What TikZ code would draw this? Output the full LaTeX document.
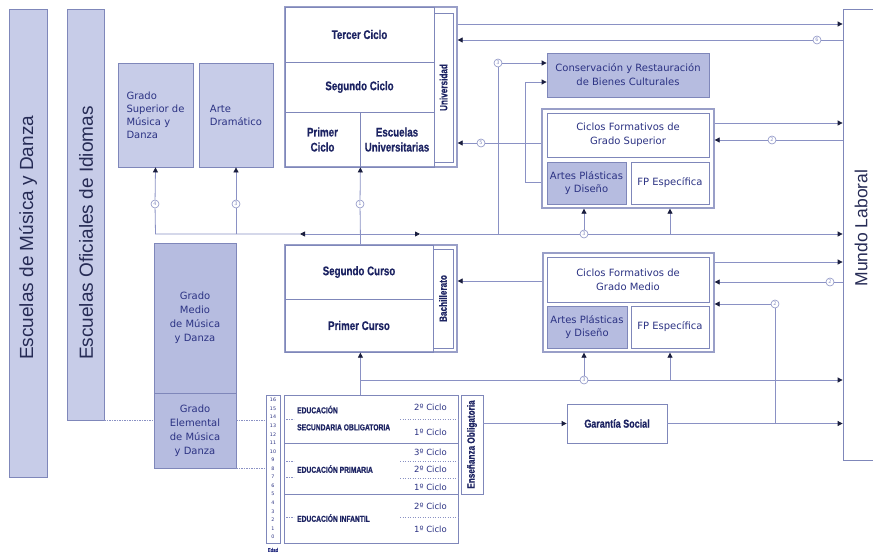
\documentclass[tikz,border=0pt]{standalone}
\usepackage{fontspec}
\setmainfont{DejaVu Sans}
\newfontfamily\arialf{Liberation Sans}
\newfontfamily\condf[FakeStretch=0.78,FakeBold=0.5]{Liberation Sans}
\usetikzlibrary{arrows.meta}
\definecolor{lav}{HTML}{C7CCE8}
\definecolor{lavd}{HTML}{B6BCE0}
\definecolor{bord}{HTML}{7F87BA}
\definecolor{lnc}{HTML}{8A91C4}
\definecolor{navy}{HTML}{2B3283}
\definecolor{dnavy}{HTML}{1C2362}
\definecolor{tipc}{HTML}{1A1E3E}
\definecolor{bigc}{HTML}{262B55}
\tikzset{
  box/.style={draw=bord, line width=0.8pt, inner sep=0pt, align=center, text=navy, font=\fontsize{10}{13}\selectfont},
  dbl/.style={line width=1.3pt, draw=bord!80},
  cb/.style={font=\condf\bfseries\fontsize{12.5}{15}\selectfont, text=dnavy},
  cbs/.style={font=\condf\bfseries\fontsize{10.5}{12}\selectfont, text=dnavy},
  edu/.style={font=\condf\bfseries\fontsize{8.6}{17}\selectfont, text=dnavy, align=left, inner sep=0pt},
  cyc/.style={font=\fontsize{8.5}{10}\selectfont, text=navy, inner sep=0pt},
  big/.style={font=\arialf\fontsize{19}{22}\selectfont, text=bigc, inner sep=0pt},
  conn/.style={draw=lnc, line width=0.8pt},
  arr/.style={conn, -{Triangle[length=5pt,width=5pt,color=tipc]}},
  dotl/.style={draw=lnc, line width=0.8pt, dash pattern=on 1.4pt off 1.1pt},
  circ/.style={circle, draw=lnc, fill=white, line width=0.6pt, minimum size=8pt, inner sep=0pt, font=\fontsize{5}{5}\selectfont, text=lnc},
  agef/.style={font=\fontsize{4.8}{5}\selectfont, text=navy, inner sep=0pt}
}
\newcommand\bx[7]{\node[box,#6,minimum width={(#4)-(#2)},minimum height={(#5)-(#3)}] (#1) at ({((#2)+(#4))/2},{((#3)+(#5))/2}) {#7};}
\begin{document}
\begin{tikzpicture}[x=1pt,y=-1pt]
\useasboundingbox (0,0) rectangle (873,554);
\fill[white] (0,0) rectangle (873,554);
% level coordinates
\coordinate (L24) at (0,24);
\coordinate (L82) at (0,82);
\coordinate (L123) at (0,123);
\coordinate (L182) at (0,182);
\coordinate (L234) at (0,234);
\coordinate (L262) at (0,262);
\coordinate (L281) at (0,281);
\coordinate (L380) at (0,380);
\coordinate (L420) at (0,420);
% left bars
\bx{emd}{9}{9}{47}{477}{fill=lav}{}
\bx{eoi}{67}{9}{104}{420}{fill=lav}{}
\node[big, rotate=90, anchor=west] (temd) at (28,360) {Escuelas de Música y Danza};
\node[big, rotate=90, anchor=west] (teoi) at (86,360) {Escuelas Oficiales de Idiomas};
% top left boxes
\bx{gsup}{118}{63}{193}{167}{fill=lav,align=left}{Grado\\Superior de\\Música y\\Danza}
\bx{arte}{199}{63}{273}{167}{fill=lav,align=left}{Arte\\Dramático}
% universidad
\bx{univ}{285}{7}{457}{167}{dbl}{}
\bx{tercer}{285}{7}{434}{62}{cb}{Tercer Ciclo}
\bx{segciclo}{285}{62}{434}{112}{cb}{Segundo Ciclo}
\bx{primer}{285}{112}{360}{167}{cb}{Primer\\Ciclo}
\bx{euniv}{360}{112}{434}{167}{cb}{Escuelas\\Universitarias}
\bx{ulab}{434}{13}{453}{162}{}{}
\node[cbs, rotate=90] (tulab) at (ulab) {Universidad};
% bachillerato
\bx{bach}{285}{245}{457}{352}{dbl}{}
\bx{segcurso}{285}{245}{433}{299}{cb}{Segundo Curso}
\bx{primcurso}{285}{299}{433}{352}{cb}{Primer Curso}
\bx{blab}{433}{249}{453}{348}{}{}
\node[cbs, rotate=90] (tblab) at (blab) {Bachillerato};
% right boxes
\bx{cons}{547}{53}{709}{97}{fill=lavd,font=\fontsize{10}{14}\selectfont}{Conservación y Restauración\\de Bienes Culturales}
\bx{cfgs}{542}{109}{714}{208}{dbl}{}
\bx{cfgsi}{547}{113}{709}{157}{font=\fontsize{10}{14}\selectfont}{Ciclos Formativos de\\Grado Superior}
\bx{apd1}{547}{162}{626}{204}{fill=lavd}{Artes Plásticas\\y Diseño}
\bx{fpe1}{631}{162}{709}{204}{}{FP Específica}
\bx{cfgm}{543}{253}{714}{352}{dbl}{}
\bx{cfgmi}{547}{257}{709}{302}{font=\fontsize{10}{14}\selectfont}{Ciclos Formativos de\\Grado Medio}
\bx{apd2}{547}{306}{627}{348}{fill=lavd}{Artes Plásticas\\y Diseño}
\bx{fpe2}{631}{306}{709}{348}{}{FP Específica}
\bx{mundo}{843}{9}{895}{460}{}{}
\node[big, rotate=90, font=\arialf\fontsize{17.5}{20}\selectfont] (tmundo) at (861,228) {Mundo Laboral};
\bx{gsoc}{567}{404}{667}{443}{cb,font=\condf\bfseries\fontsize{11.5}{13}\selectfont}{Garantía Social}
% musica y danza
\bx{gmed}{154}{243}{236}{393}{fill=lavd,font=\fontsize{10}{14}\selectfont}{Grado\\Medio\\de Música\\y Danza}
\bx{gele}{154}{393}{236}{468}{fill=lavd,font=\fontsize{10}{14}\selectfont}{Grado\\Elemental\\de Música\\y Danza}
% education
\bx{edad}{266}{395}{280}{543}{}{}
\foreach \i in {0,...,16}{\pgfmathtruncatemacro\a{16-\i}\node[agef] (age\i) at (273,{400+\i*8.56}) {\a};}
\node[agef, font=\condf\bfseries\fontsize{5.5}{6}\selectfont] (tedad) at (273,550) {Edad};
\bx{eso}{284}{395}{458}{443}{}{}
\bx{prim}{284}{443}{458}{494}{}{}
\bx{inf}{284}{494}{458}{543}{}{}
\bx{ensob}{461}{395}{483}{494}{}{}
\node[cbs, rotate=90, font=\condf\bfseries\fontsize{10.5}{12}\selectfont] (tensob) at (ensob) {Enseñanza Obligatoria};
\node[edu, anchor=west] (teso) at (297,418) {EDUCACIÓN\\SECUNDARIA OBLIGATORIA};
\node[edu, anchor=west] (tprim) at (297,469) {EDUCACIÓN PRIMARIA};
\node[edu, anchor=west] (tinf) at (297,518) {EDUCACIÓN INFANTIL};
\node[cyc, anchor=east] (e2) at (447,407) {2º Ciclo};
\node[cyc, anchor=east] (e1) at (447,432) {1º Ciclo};
\node[cyc, anchor=east] (p3) at (447,452) {3º Ciclo};
\node[cyc, anchor=east] (p2) at (447,469) {2º Ciclo};
\node[cyc, anchor=east] (p1) at (447,487) {1º Ciclo};
\node[cyc, anchor=east] (i2) at (447,506) {2º Ciclo};
\node[cyc, anchor=east] (i1) at (447,529) {1º Ciclo};
\draw[dotl] (400,419) -- (eso.east |- 0,419);
\draw[dotl] (400,461) -- (prim.east |- 0,461);
\draw[dotl] (400,478) -- (prim.east |- 0,478);
\draw[dotl] (400,517) -- (inf.east |- 0,517);
\draw[dotl] (eso.west |- 0,419) -- ++(10,0);
\draw[dotl] (prim.west |- 0,461) -- ++(10,0);
\draw[dotl] (prim.west |- 0,477) -- ++(10,0);
\draw[dotl] (inf.west |- 0,517) -- ++(10,0);
% dotted links
\draw[dotl] (eoi.south east) -- (gele.west |- eoi.south east);
\draw[dotl] (gele.east |- L420) -- (edad.west |- L420);
\draw[dotl] (gele.south east) -- (edad.west |- gele.south east);
% circles
\node[circ] (c4) at (155,204) {4};
\node[circ] (c3b) at (236,204) {3};
\node[circ] (c1) at (360,204) {1};
\node[circ] (c3a) at (498,63) {3};
\node[circ] (c5) at (481,143) {5};
\node[circ] (c6) at (817,40) {6};
\node[circ] (c2a) at (772,140) {2};
\node[circ] (c3c) at (584,234) {3};
\node[circ] (c2b) at (830,282) {2};
\node[circ] (c2c) at (775,304) {2};
\node[circ] (c3d) at (584,380) {3};
\coordinate (J) at (primer.south east |- L234);
\coordinate (aL) at (300,234);
\coordinate (aR) at (420,234);
% top connectors
\draw[arr] (univ.east |- L24) -- (mundo.west |- L24);
\draw[conn] (mundo.west |- c6) -- (c6);
\draw[arr] (c6) -- (univ.east |- c6);
\draw[conn] (cfgs.west |- c5) -- (c5);
\draw[arr] (c5) -- (univ.east |- c5);
\draw[arr] (cfgs.east |- L123) -- (mundo.west |- L123);
\draw[conn] (mundo.west |- c2a) -- (c2a);
\draw[arr] (c2a) -- (cfgs.east |- c2a);
\draw[arr] (c3a) -- (cons.west |- c3a);
\draw[conn] (c3a) -- (c3a |- L234);
\draw[arr] (cfgs.west |- L182) -- ++(-16,0) |- (cons.west |- L82);
% main line 234
\draw[conn] (J |- bach.north) -- (J) -- (c1);
\draw[arr] (c1) -- (primer.south east);
\draw[arr] (J) -- (aL);
\draw[conn] (aL) -- (gsup.south |- L234) -- (c4);
\draw[arr] (c4) -- (gsup.south);
\draw[conn] (arte.south |- L234) -- (c3b);
\draw[arr] (c3b) -- (arte.south);
\draw[arr] (J) -- (aR);
\draw[conn] (aR) -- (c3c);
\draw[arr] (c3c) -- (mundo.west |- L234);
\draw[arr] (c3c) -- (c3c |- cfgs.south);
\draw[arr] (fpe1.south |- L234) -- (fpe1.south |- cfgs.south);
% middle
\draw[arr] (cfgm.west |- L281) -- (bach.east |- L281);
\draw[arr] (cfgm.east |- L262) -- (mundo.west |- L262);
\draw[conn] (mundo.west |- c2b) -- (c2b);
\draw[arr] (c2b) -- (cfgm.east |- c2b);
\draw[arr] (c2c) -- (cfgm.east |- c2c);
\draw[conn] (c2c) -- (c2c |- gsoc.east);
% line 380
\draw[conn] (J |- eso.north) -- (J |- L380);
\draw[arr] (J |- L380) -- (J |- bach.south);
\draw[conn] (J |- L380) -- (c3d);
\draw[arr] (c3d) -- (mundo.west |- L380);
\draw[arr] (c3d) -- (c3d |- cfgm.south);
\draw[arr] (fpe2.south |- L380) -- (fpe2.south |- cfgm.south);
% garantia
\draw[arr] (ensob.east |- gsoc.west) -- (gsoc.west);
\draw[arr] (gsoc.east) -- (mundo.west |- gsoc.east);
\end{tikzpicture}
\end{document}
